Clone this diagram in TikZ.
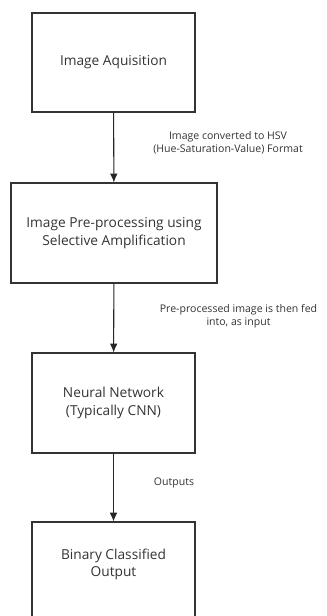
\documentclass[tikz,border=0pt]{standalone}
\usepackage{fontspec}
\setmainfont{Open Sans}
\usetikzlibrary{arrows.meta}

\tikzset{
    stage/.style={draw=black!80, line width=0.9pt, align=center,
        minimum width=4.89cm, minimum height=3cm, inner sep=2pt,
        font=\fontsize{11.7}{15}\selectfont, text=black!80},
    flow/.style={draw=black!85, line width=0.9pt, -{Latex[length=7.5pt,width=6.5pt]}},
    note/.style={align=center, font=\fontsize{9}{11}\selectfont, text=black!80}
}

\begin{document}
\begin{tikzpicture}[x=0.03cm, y=-0.03cm]

\useasboundingbox (0,0) rectangle (326,616);

% Stages
\node[stage, minimum height=2.97cm] (acq) at (113.5,62.5) {Image Aquisition};
\node[stage, minimum width=6.18cm] (pre) at (114,233) {Image Pre-processing using\\Selective Amplification};
\node[stage] (cnn) at (113.5,403) {Neural Network\\(Typically CNN)};
\node[stage, text depth=0.55cm] (out) at (113.5,572) {Binary Classified\\Output};

% Notes
\node[note] (hsv) at (228,142.5) {Image converted to HSV\\(Hue-Saturation-Value) Format};
\node[note] (feed) at (238.5,316.5) {Pre-processed image is then fed\\into, as input};
\node[note] (outs) at (174,483) {Outputs};

% Arrows
\draw[flow] (acq) -- (pre);
\draw[flow] (pre) -- (cnn);
\draw[flow] (cnn) -- (out);

\end{tikzpicture}
\end{document}
